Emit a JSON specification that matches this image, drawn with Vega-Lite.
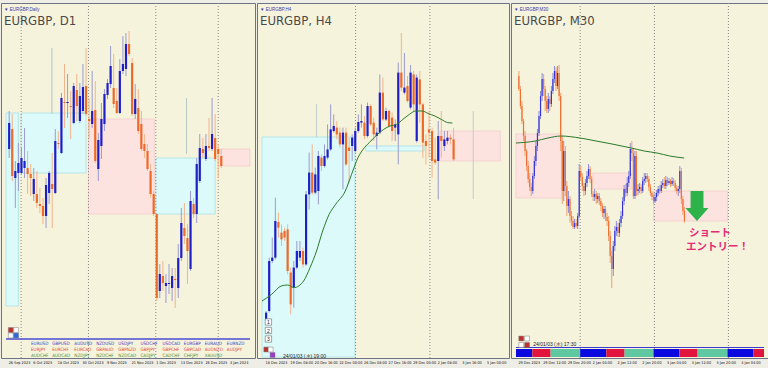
{
"$schema": "https://vega.github.io/schema/vega-lite/v6.json",
"padding": {"left": 0, "top": 2, "right": 0, "bottom": 11},
"background": "#efeee6",
"bounds": "flush",
"spacing": 2,
"config": {
  "view": {"fill": "#f6f3dc", "stroke": "#6d7383", "strokeWidth": 1},
  "axis": {"grid": false, "domain": false, "ticks": false, "labelFont": "DejaVu Sans Condensed, Liberation Sans", "labelFontSize": 3.8, "labelColor": "#111111", "labelAlign": "left", "labelBaseline": "top", "labelPadding": 2.5, "labelOverlap": false, "labelFlush": false, "labelOffset": -1},
  "font": "Liberation Sans"
},
"datasets": {
"d1": [
{"x":0,"o":0.8662,"h":0.8700,"l":0.8653,"c":0.8688},{"x":1,"o":0.8682,"h":0.8697,"l":0.8630,"c":0.8635},{"x":2,"o":0.8633,"h":0.8650,"l":0.8603,"c":0.8640},{"x":3,"o":0.8638,"h":0.8668,"l":0.8620,"c":0.8648},{"x":4,"o":0.8638,"h":0.8663,"l":0.8637,"c":0.8653},{"x":5,"o":0.8643,"h":0.8683,"l":0.8633,"c":0.8650},{"x":6,"o":0.8643,"h":0.8660,"l":0.8617,"c":0.8637},{"x":7,"o":0.8637,"h":0.8647,"l":0.8615,"c":0.8633},{"x":8,"o":0.8617,"h":0.8643,"l":0.8610,"c":0.8632},{"x":9,"o":0.8617,"h":0.8640,"l":0.8603,"c":0.8608},
{"x":10,"o":0.8607,"h":0.8623,"l":0.8598,"c":0.8605},{"x":11,"o":0.8605,"h":0.8613,"l":0.8587,"c":0.8595},{"x":12,"o":0.8595,"h":0.8633,"l":0.8583,"c":0.8626},{"x":13,"o":0.8618,"h":0.8640,"l":0.8607,"c":0.8638},{"x":14,"o":0.8627,"h":0.8658,"l":0.8583,"c":0.8622},{"x":15,"o":0.8618,"h":0.8682,"l":0.8617,"c":0.8670},{"x":16,"o":0.8668,"h":0.8680,"l":0.8662,"c":0.8667},{"x":17,"o":0.8658,"h":0.8718,"l":0.8657,"c":0.8713},{"x":18,"o":0.8709,"h":0.8747,"l":0.8683,"c":0.8708},{"x":19,"o":0.8708,"h":0.8737,"l":0.8693,"c":0.8709},
{"x":20,"o":0.8705,"h":0.8720,"l":0.8672,"c":0.8704},{"x":21,"o":0.8688,"h":0.8728,"l":0.8687,"c":0.8725},{"x":22,"o":0.8721,"h":0.8737,"l":0.8690,"c":0.8705},{"x":23,"o":0.8690,"h":0.8728,"l":0.8688,"c":0.8715},{"x":24,"o":0.8700,"h":0.8747,"l":0.8697,"c":0.8724},{"x":25,"o":0.8725,"h":0.8763,"l":0.8695,"c":0.8697},{"x":26,"o":0.8692,"h":0.8713,"l":0.8673,"c":0.8690},{"x":27,"o":0.8687,"h":0.8740,"l":0.8683,"c":0.8700},{"x":28,"o":0.8701,"h":0.8730,"l":0.8648,"c":0.8650},{"x":29,"o":0.8642,"h":0.8678,"l":0.8630,"c":0.8671},
{"x":30,"o":0.8665,"h":0.8708,"l":0.8652,"c":0.8692},{"x":31,"o":0.8687,"h":0.8722,"l":0.8680,"c":0.8717},{"x":32,"o":0.8716,"h":0.8732,"l":0.8712,"c":0.8728},{"x":33,"o":0.8727,"h":0.8765,"l":0.8723,"c":0.8745},{"x":34,"o":0.8723,"h":0.8757,"l":0.8703,"c":0.8707},{"x":35,"o":0.8710,"h":0.8723,"l":0.8697,"c":0.8698},{"x":36,"o":0.8698,"h":0.8752,"l":0.8697,"c":0.8740},{"x":37,"o":0.8740,"h":0.8775,"l":0.8737,"c":0.8747},{"x":38,"o":0.8742,"h":0.8778,"l":0.8735,"c":0.8767},{"x":39,"o":0.8767,"h":0.8780,"l":0.8755,"c":0.8757},
{"x":40,"o":0.8748,"h":0.8753,"l":0.8695,"c":0.8697},{"x":41,"o":0.8697,"h":0.8727,"l":0.8692,"c":0.8712},{"x":42,"o":0.8703,"h":0.8722,"l":0.8677,"c":0.8680},{"x":43,"o":0.8687,"h":0.8700,"l":0.8660,"c":0.8662},{"x":44,"o":0.8667,"h":0.8677,"l":0.8653,"c":0.8660},{"x":45,"o":0.8660,"h":0.8667,"l":0.8640,"c":0.8642},{"x":46,"o":0.8640,"h":0.8647,"l":0.8613,"c":0.8617},{"x":47,"o":0.8617,"h":0.8620,"l":0.8595,"c":0.8597},{"x":48,"o":0.8597,"h":0.8597,"l":0.8510,"c":0.8513},{"x":49,"o":0.8520,"h":0.8547,"l":0.8513,"c":0.8537},
{"x":50,"o":0.8535,"h":0.8550,"l":0.8520,"c":0.8528},{"x":51,"o":0.8525,"h":0.8537,"l":0.8508,"c":0.8528},{"x":52,"o":0.8527,"h":0.8547,"l":0.8517,"c":0.8528},{"x":53,"o":0.8523,"h":0.8543,"l":0.8510,"c":0.8535},{"x":54,"o":0.8532,"h":0.8543,"l":0.8503,"c":0.8531},{"x":55,"o":0.8523,"h":0.8567,"l":0.8513,"c":0.8553},{"x":56,"o":0.8553,"h":0.8603,"l":0.8550,"c":0.8588},{"x":57,"o":0.8583,"h":0.8608,"l":0.8567,"c":0.8575},{"x":58,"o":0.8573,"h":0.8587,"l":0.8527,"c":0.8560},{"x":59,"o":0.8542,"h":0.8620,"l":0.8540,"c":0.8610},
{"x":60,"o":0.8607,"h":0.8613,"l":0.8593,"c":0.8597},{"x":61,"o":0.8597,"h":0.8653,"l":0.8588,"c":0.8647},{"x":62,"o":0.8630,"h":0.8677,"l":0.8628,"c":0.8663},{"x":63,"o":0.8662,"h":0.8673,"l":0.8653,"c":0.8658},{"x":64,"o":0.8652,"h":0.8677,"l":0.8650,"c":0.8665},{"x":65,"o":0.8665,"h":0.8693,"l":0.8660,"c":0.8663},{"x":66,"o":0.8662,"h":0.8713,"l":0.8660,"c":0.8677},{"x":67,"o":0.8673,"h":0.8697,"l":0.8650,"c":0.8652},{"x":68,"o":0.8662,"h":0.8667,"l":0.8633,"c":0.8657},{"x":69,"o":0.8655,"h":0.8662,"l":0.8643,"c":0.8645}
],
"d1z": [
{"x":-1.03,"x2":3.0,"y":0.8505,"y2":0.8698,"z":"cyan"},
{"x":3.9,"x2":25.0,"y":0.8638,"y2":0.8698,"z":"cyan"},
{"x":25.8,"x2":47.2,"y":0.8597,"y2":0.8692,"z":"pink"},
{"x":47.7,"x2":67.0,"y":0.8597,"y2":0.8653,"z":"cyan"},
{"x":68.0,"x2":78.34,"y":0.8645,"y2":0.8662,"z":"pink"}
],
"cur": [
{"t":"EURUSD","x":7.1,"y":0.84673,"g":"a"},{"t":"GBPUSD","x":14.0,"y":0.84673,"g":"a"},{"t":"AUDUSD","x":21.2,"y":0.84673,"g":"a"},{"t":"NZDUSD","x":28.3,"y":0.84673,"g":"a"},{"t":"USDJPY","x":35.5,"y":0.84673,"g":"a"},{"t":"USDCHF","x":42.7,"y":0.84673,"g":"a"},{"t":"USDCAD","x":49.9,"y":0.84673,"g":"a"},{"t":"EURGBP","x":56.8,"y":0.84673,"g":"a"},{"t":"EURAUD","x":63.6,"y":0.84673,"g":"a"},{"t":"EURNZD","x":70.8,"y":0.84673,"g":"a"},
{"t":"EURJPY","x":7.1,"y":0.84607,"g":"b"},{"t":"EURCHF","x":14.0,"y":0.84607,"g":"b"},{"t":"EURCAD","x":21.2,"y":0.84607,"g":"b"},{"t":"GBPAUD","x":28.3,"y":0.84607,"g":"b"},{"t":"GBPNZD","x":35.5,"y":0.84607,"g":"b"},{"t":"GBPJPY","x":42.7,"y":0.84607,"g":"b"},{"t":"GBPCHF","x":49.9,"y":0.84607,"g":"b"},{"t":"GBPCAD","x":56.8,"y":0.84607,"g":"b"},{"t":"AUDNZD","x":63.6,"y":0.84607,"g":"b"},{"t":"AUDJPY","x":70.8,"y":0.84607,"g":"b"},
{"t":"AUDCHF","x":7.1,"y":0.84553,"g":"c"},{"t":"AUDCAD","x":14.0,"y":0.84553,"g":"c"},{"t":"NZDJPY","x":21.2,"y":0.84553,"g":"c"},{"t":"NZDCHF","x":28.3,"y":0.84553,"g":"c"},{"t":"NZDCAD","x":35.5,"y":0.84553,"g":"c"},{"t":"CADJPY","x":42.7,"y":0.84553,"g":"c"},{"t":"CADCHF","x":49.9,"y":0.84553,"g":"c"},{"t":"CHFJPY","x":56.8,"y":0.84553,"g":"c"},{"t":"XAUUSD","x":63.6,"y":0.84553,"g":"c"}
],
"h4": [
{"x":0,"o":0.85808,"h":0.85850,"l":0.85800,"c":0.85842},{"x":1,"o":0.85850,"h":0.86117,"l":0.85842,"c":0.86100},{"x":2,"o":0.86100,"h":0.86217,"l":0.86090,"c":0.86117},{"x":3,"o":0.86117,"h":0.86417,"l":0.86108,"c":0.86300},{"x":4,"o":0.86295,"h":0.86342,"l":0.86217,"c":0.86267},{"x":5,"o":0.86242,"h":0.86283,"l":0.86175,"c":0.86208},{"x":6,"o":0.86250,"h":0.86267,"l":0.86200,"c":0.86217},{"x":7,"o":0.86258,"h":0.86283,"l":0.86033,"c":0.86050},{"x":8,"o":0.86042,"h":0.86067,"l":0.85833,"c":0.85883},{"x":9,"o":0.85967,"h":0.86100,"l":0.85867,"c":0.86067},
{"x":10,"o":0.86067,"h":0.86200,"l":0.86058,"c":0.86150},{"x":11,"o":0.86117,"h":0.86200,"l":0.86100,"c":0.86150},{"x":12,"o":0.86150,"h":0.86167,"l":0.86067,"c":0.86083},{"x":13,"o":0.86083,"h":0.86450,"l":0.86075,"c":0.86433},{"x":14,"o":0.86433,"h":0.86642,"l":0.86358,"c":0.86542},{"x":15,"o":0.86542,"h":0.86683,"l":0.86433,"c":0.86442},{"x":16,"o":0.86442,"h":0.86567,"l":0.86433,"c":0.86533},{"x":17,"o":0.86450,"h":0.86650,"l":0.86383,"c":0.86625},{"x":18,"o":0.86617,"h":0.86633,"l":0.86550,"c":0.86575},{"x":19,"o":0.86575,"h":0.86683,"l":0.86567,"c":0.86625},
{"x":20,"o":0.86617,"h":0.86783,"l":0.86608,"c":0.86658},{"x":21,"o":0.86658,"h":0.86883,"l":0.86650,"c":0.86758},{"x":22,"o":0.86750,"h":0.86833,"l":0.86742,"c":0.86775},{"x":23,"o":0.86767,"h":0.86800,"l":0.86708,"c":0.86733},{"x":24,"o":0.86742,"h":0.86767,"l":0.86667,"c":0.86683},{"x":25,"o":0.86683,"h":0.86767,"l":0.86458,"c":0.86742},{"x":26,"o":0.86742,"h":0.86767,"l":0.86575,"c":0.86583},{"x":27,"o":0.86667,"h":0.86717,"l":0.86492,"c":0.86650},{"x":28,"o":0.86675,"h":0.86733,"l":0.86600,"c":0.86717},{"x":29,"o":0.86650,"h":0.86767,"l":0.86642,"c":0.86750},
{"x":30,"o":0.86750,"h":0.86833,"l":0.86742,"c":0.86795},{"x":31,"o":0.86792,"h":0.86883,"l":0.86767,"c":0.86800},{"x":32,"o":0.86792,"h":0.86825,"l":0.86708,"c":0.86725},{"x":33,"o":0.86725,"h":0.86892,"l":0.86717,"c":0.86875},{"x":34,"o":0.86875,"h":0.86883,"l":0.86775,"c":0.86783},{"x":35,"o":0.86792,"h":0.86817,"l":0.86700,"c":0.86733},{"x":36,"o":0.86725,"h":0.86767,"l":0.86658,"c":0.86742},{"x":37,"o":0.86742,"h":0.87033,"l":0.86733,"c":0.86942},{"x":38,"o":0.86942,"h":0.87017,"l":0.86800,"c":0.86808},{"x":39,"o":0.86808,"h":0.86867,"l":0.86800,"c":0.86850},
{"x":40,"o":0.86850,"h":0.86858,"l":0.86767,"c":0.86775},{"x":41,"o":0.86817,"h":0.86842,"l":0.86700,"c":0.86750},{"x":42,"o":0.86767,"h":0.86808,"l":0.86700,"c":0.86783},{"x":43,"o":0.86733,"h":0.87092,"l":0.86583,"c":0.87042},{"x":44,"o":0.87042,"h":0.87240,"l":0.86950,"c":0.86967},{"x":45,"o":0.86942,"h":0.87140,"l":0.86933,"c":0.86967},{"x":46,"o":0.86975,"h":0.87025,"l":0.86892,"c":0.86900},{"x":47,"o":0.86867,"h":0.87080,"l":0.86858,"c":0.87042},{"x":48,"o":0.87033,"h":0.87050,"l":0.86850,"c":0.86883},{"x":49,"o":0.86700,"h":0.87033,"l":0.86692,"c":0.87017},
{"x":50,"o":0.87008,"h":0.87050,"l":0.86792,"c":0.86883},{"x":51,"o":0.86883,"h":0.86892,"l":0.86617,"c":0.86692},{"x":52,"o":0.86700,"h":0.86733,"l":0.86583,"c":0.86675},{"x":53,"o":0.86758,"h":0.86850,"l":0.86617,"c":0.86742},{"x":54,"o":0.86750,"h":0.86767,"l":0.86517,"c":0.86600},{"x":55,"o":0.86608,"h":0.86717,"l":0.86583,"c":0.86592},{"x":56,"o":0.86600,"h":0.86800,"l":0.86408,"c":0.86725},{"x":57,"o":0.86725,"h":0.86850,"l":0.86617,"c":0.86700},{"x":58,"o":0.86675,"h":0.86750,"l":0.86650,"c":0.86708},{"x":59,"o":0.86700,"h":0.86750,"l":0.86683,"c":0.86717},
{"x":60,"o":0.86717,"h":0.86733,"l":0.86683,"c":0.86708},{"x":61,"o":0.86708,"h":0.86767,"l":0.86600,"c":0.86608}
],
"h4ma": [
{"x":-1.34,"v":0.85900},{"x":1.78,"v":0.85933},{"x":4.9,"v":0.85975},{"x":7.0,"v":0.85980},{"x":9.06,"v":0.85967},{"x":12.2,"v":0.86000},{"x":14.3,"v":0.86067},{"x":16.4,"v":0.86150},{"x":18.4,"v":0.86250},{"x":20.5,"v":0.86333},{"x":22.6,"v":0.86383},{"x":25.75,"v":0.86450},{"x":27.8,"v":0.86533},{"x":29.9,"v":0.86617},{"x":32,"v":0.86667},{"x":34.1,"v":0.86700},{"x":36.2,"v":0.86733},{"x":38.25,"v":0.86758},{"x":40.3,"v":0.86775},{"x":42.4,"v":0.86783},{"x":44.5,"v":0.86808},{"x":46.6,"v":0.86833},{"x":48.7,"v":0.86850},{"x":50.75,"v":0.86850},{"x":52.8,"v":0.86837},{"x":54.9,"v":0.86825},{"x":57,"v":0.86808},{"x":59.1,"v":0.86792},{"x":60.6,"v":0.86790}
],
"h4z": [
{"x":-1.34,"x2":28.9,"y":0.85620,"y2":0.86720,"z":"cyan"},
{"x":32.4,"x2":51.4,"y":0.86650,"y2":0.86675,"z":"cyan"},
{"x":56.5,"x2":76.2,"y":0.86600,"y2":0.86750,"z":"pink"}
],
"m30": [
{"x":0,"o":0.87425,"h":0.87430,"l":0.87410,"c":0.87412},{"x":1,"o":0.87412,"h":0.87415,"l":0.87392,"c":0.87395},{"x":2,"o":0.87395,"h":0.87400,"l":0.87377,"c":0.87380},{"x":3,"o":0.87380,"h":0.87382,"l":0.87360,"c":0.87365},{"x":4,"o":0.87365,"h":0.87370,"l":0.87345,"c":0.87350},{"x":5,"o":0.87350,"h":0.87352,"l":0.87330,"c":0.87335},{"x":6,"o":0.87335,"h":0.87340,"l":0.87318,"c":0.87322},{"x":7,"o":0.87322,"h":0.87328,"l":0.87310,"c":0.87314},{"x":8,"o":0.87314,"h":0.87318,"l":0.87305,"c":0.87310},{"x":9,"o":0.87310,"h":0.87328,"l":0.87307,"c":0.87325},
{"x":10,"o":0.87325,"h":0.87345,"l":0.87322,"c":0.87340},{"x":11,"o":0.87340,"h":0.87360,"l":0.87335,"c":0.87355},{"x":12,"o":0.87355,"h":0.87372,"l":0.87350,"c":0.87368},{"x":13,"o":0.87368,"h":0.87390,"l":0.87365,"c":0.87385},{"x":14,"o":0.87385,"h":0.87410,"l":0.87382,"c":0.87405},{"x":15,"o":0.87405,"h":0.87428,"l":0.87400,"c":0.87422},{"x":16,"o":0.87422,"h":0.87427,"l":0.87405,"c":0.87412},{"x":17,"o":0.87412,"h":0.87415,"l":0.87390,"c":0.87400},{"x":18,"o":0.87400,"h":0.87405,"l":0.87388,"c":0.87392},{"x":19,"o":0.87392,"h":0.87408,"l":0.87388,"c":0.87402},
{"x":20,"o":0.87402,"h":0.87405,"l":0.87390,"c":0.87397},{"x":21,"o":0.87397,"h":0.87415,"l":0.87394,"c":0.87410},{"x":22,"o":0.87410,"h":0.87428,"l":0.87407,"c":0.87422},{"x":23,"o":0.87422,"h":0.87435,"l":0.87418,"c":0.87430},{"x":24,"o":0.87430,"h":0.87434,"l":0.87410,"c":0.87415},{"x":25,"o":0.87415,"h":0.87435,"l":0.87412,"c":0.87428},{"x":26,"o":0.87428,"h":0.87436,"l":0.87400,"c":0.87405},{"x":27,"o":0.87405,"h":0.87408,"l":0.87350,"c":0.87360},{"x":28,"o":0.87360,"h":0.87365,"l":0.87297,"c":0.87310},{"x":29,"o":0.87310,"h":0.87360,"l":0.87300,"c":0.87350},
{"x":30,"o":0.87350,"h":0.87355,"l":0.87305,"c":0.87315},{"x":31,"o":0.87315,"h":0.87320,"l":0.87285,"c":0.87295},{"x":32,"o":0.87295,"h":0.87310,"l":0.87288,"c":0.87302},{"x":33,"o":0.87302,"h":0.87305,"l":0.87278,"c":0.87285},{"x":34,"o":0.87285,"h":0.87290,"l":0.87275,"c":0.87280},{"x":35,"o":0.87280,"h":0.87285,"l":0.87272,"c":0.87274},{"x":36,"o":0.87274,"h":0.87282,"l":0.87272,"c":0.87278},{"x":37,"o":0.87278,"h":0.87282,"l":0.87273,"c":0.87275},{"x":38,"o":0.87275,"h":0.87288,"l":0.87272,"c":0.87285},{"x":39,"o":0.87285,"h":0.87337,"l":0.87283,"c":0.87330},
{"x":40,"o":0.87330,"h":0.87335,"l":0.87320,"c":0.87324},{"x":41,"o":0.87324,"h":0.87328,"l":0.87310,"c":0.87315},{"x":42,"o":0.87315,"h":0.87318,"l":0.87305,"c":0.87310},{"x":43,"o":0.87310,"h":0.87322,"l":0.87306,"c":0.87318},{"x":44,"o":0.87318,"h":0.87330,"l":0.87314,"c":0.87325},{"x":45,"o":0.87325,"h":0.87337,"l":0.87322,"c":0.87332},{"x":46,"o":0.87332,"h":0.87335,"l":0.87318,"c":0.87322},{"x":47,"o":0.87322,"h":0.87325,"l":0.87304,"c":0.87307},{"x":48,"o":0.87307,"h":0.87310,"l":0.87300,"c":0.87304},{"x":49,"o":0.87304,"h":0.87312,"l":0.87300,"c":0.87307},
{"x":50,"o":0.87307,"h":0.87310,"l":0.87297,"c":0.87302},{"x":51,"o":0.87302,"h":0.87308,"l":0.87298,"c":0.87305},{"x":52,"o":0.87305,"h":0.87308,"l":0.87296,"c":0.87300},{"x":53,"o":0.87300,"h":0.87303,"l":0.87290,"c":0.87295},{"x":54,"o":0.87295,"h":0.87298,"l":0.87284,"c":0.87288},{"x":55,"o":0.87288,"h":0.87295,"l":0.87282,"c":0.87292},{"x":56,"o":0.87292,"h":0.87295,"l":0.87280,"c":0.87284},{"x":57,"o":0.87284,"h":0.87288,"l":0.87275,"c":0.87280},{"x":58,"o":0.87280,"h":0.87285,"l":0.87260,"c":0.87265},{"x":59,"o":0.87265,"h":0.87270,"l":0.87238,"c":0.87245},
{"x":60,"o":0.87245,"h":0.87250,"l":0.87213,"c":0.87232},{"x":61,"o":0.87232,"h":0.87260,"l":0.87225,"c":0.87255},{"x":62,"o":0.87255,"h":0.87275,"l":0.87250,"c":0.87270},{"x":63,"o":0.87270,"h":0.87280,"l":0.87265,"c":0.87274},{"x":64,"o":0.87274,"h":0.87278,"l":0.87264,"c":0.87268},{"x":65,"o":0.87268,"h":0.87282,"l":0.87264,"c":0.87278},{"x":66,"o":0.87278,"h":0.87290,"l":0.87274,"c":0.87285},{"x":67,"o":0.87285,"h":0.87304,"l":0.87282,"c":0.87300},{"x":68,"o":0.87300,"h":0.87316,"l":0.87296,"c":0.87312},{"x":69,"o":0.87312,"h":0.87317,"l":0.87304,"c":0.87308},
{"x":70,"o":0.87308,"h":0.87324,"l":0.87305,"c":0.87318},{"x":71,"o":0.87318,"h":0.87330,"l":0.87314,"c":0.87325},{"x":72,"o":0.87325,"h":0.87358,"l":0.87322,"c":0.87352},{"x":73,"o":0.87352,"h":0.87360,"l":0.87340,"c":0.87348},{"x":74,"o":0.87348,"h":0.87353,"l":0.87302,"c":0.87305},{"x":75,"o":0.87305,"h":0.87350,"l":0.87302,"c":0.87345},{"x":76,"o":0.87345,"h":0.87350,"l":0.87305,"c":0.87310},{"x":77,"o":0.87310,"h":0.87317,"l":0.87306,"c":0.87312},{"x":78,"o":0.87312,"h":0.87318,"l":0.87308,"c":0.87314},{"x":79,"o":0.87314,"h":0.87317,"l":0.87307,"c":0.87310},
{"x":80,"o":0.87310,"h":0.87324,"l":0.87308,"c":0.87320},{"x":81,"o":0.87320,"h":0.87328,"l":0.87316,"c":0.87322},{"x":82,"o":0.87322,"h":0.87328,"l":0.87318,"c":0.87325},{"x":83,"o":0.87325,"h":0.87328,"l":0.87319,"c":0.87322},{"x":84,"o":0.87322,"h":0.87325,"l":0.87310,"c":0.87314},{"x":85,"o":0.87314,"h":0.87317,"l":0.87305,"c":0.87308},{"x":86,"o":0.87308,"h":0.87310,"l":0.87301,"c":0.87304},{"x":87,"o":0.87304,"h":0.87307,"l":0.87297,"c":0.87300},{"x":88,"o":0.87300,"h":0.87308,"l":0.87298,"c":0.87304},{"x":89,"o":0.87304,"h":0.87311,"l":0.87300,"c":0.87308},
{"x":90,"o":0.87308,"h":0.87315,"l":0.87305,"c":0.87312},{"x":91,"o":0.87312,"h":0.87316,"l":0.87307,"c":0.87310},{"x":92,"o":0.87310,"h":0.87320,"l":0.87308,"c":0.87316},{"x":93,"o":0.87316,"h":0.87322,"l":0.87313,"c":0.87318},{"x":94,"o":0.87318,"h":0.87324,"l":0.87312,"c":0.87315},{"x":95,"o":0.87315,"h":0.87325,"l":0.87312,"c":0.87321},{"x":96,"o":0.87321,"h":0.87324,"l":0.87315,"c":0.87318},{"x":97,"o":0.87318,"h":0.87323,"l":0.87316,"c":0.87320},{"x":98,"o":0.87320,"h":0.87322,"l":0.87314,"c":0.87317},{"x":99,"o":0.87317,"h":0.87324,"l":0.87315,"c":0.87320},
{"x":100,"o":0.87320,"h":0.87323,"l":0.87315,"c":0.87318},{"x":101,"o":0.87318,"h":0.87321,"l":0.87310,"c":0.87313},{"x":102,"o":0.87313,"h":0.87316,"l":0.87307,"c":0.87310},{"x":103,"o":0.87310,"h":0.87315,"l":0.87305,"c":0.87312},{"x":104,"o":0.87312,"h":0.87335,"l":0.87308,"c":0.87330},{"x":105,"o":0.87330,"h":0.87333,"l":0.87297,"c":0.87302},{"x":106,"o":0.87302,"h":0.87305,"l":0.87286,"c":0.87290},{"x":107,"o":0.87290,"h":0.87294,"l":0.87278,"c":0.87280}
],
"m30ma": [
{"x":-1.9,"v":0.87358},{"x":10.6,"v":0.87360},{"x":18.8,"v":0.87363},{"x":27.1,"v":0.87365},{"x":39.5,"v":0.87363},{"x":49.9,"v":0.87360},{"x":60.2,"v":0.87357},{"x":72.7,"v":0.87353},{"x":81,"v":0.87350},{"x":89.3,"v":0.87348},{"x":97.5,"v":0.87345},{"x":106.8,"v":0.87343}
],
"m30z": [
{"x":-1.86,"x2":28,"y":0.87303,"y2":0.87367},
{"x":47.8,"x2":72.7,"y":0.87312,"y2":0.87328},
{"x":87,"x2":134.8,"y":0.87280,"y2":0.87310}
],
"sess": [
{"x":-1.86,"x2":8.7,"s":"tokyo"},{"x":8.7,"x2":20.5,"s":"london"},{"x":20.5,"x2":39.6,"s":"ny"},
{"x":39.6,"x2":56.5,"s":"tokyo"},{"x":56.5,"x2":68.3,"s":"london"},{"x":68.3,"x2":87,"s":"ny"},
{"x":87,"x2":103.7,"s":"tokyo"},{"x":103.7,"x2":115.5,"s":"london"},{"x":115.5,"x2":134.8,"s":"ny"},
{"x":134.8,"x2":151.6,"s":"tokyo"},{"x":151.6,"x2":158.4,"s":"london"}
]
},
"hconcat": [
{
"width": 254, "height": 355,
"title": {"text": "▼ EURGBP,Daily", "subtitle": "EURGBP, D1", "anchor": "start", "frame": "group", "offset": -25, "dx": 3, "fontSize": 4.5, "fontWeight": "normal", "color": "#3b3bb0", "subtitleFont": "DejaVu Sans Condensed, Liberation Sans", "subtitleFontSize": 13, "subtitleColor": "#4a4a4a", "subtitlePadding": 3},
"encoding": {"x": {"field": "x", "type": "quantitative", "scale": {"domain": [-1.03, 78.34], "nice": false, "zero": false}, "title": null,
   "axis": {"values": [0,8,16,24,32,40,48,56,64,72], "labelExpr": "['26 Sep 2023','6 Oct 2023','18 Oct 2023','30 Oct 2023','9 Nov 2023','21 Nov 2023','1 Dec 2023','13 Dec 2023','26 Dec 2023','4 Jan 2024'][round(datum.value/8)]"}}},
"layer": [
{"data": {"name": "d1z"}, "mark": {"type": "rect", "strokeWidth": 0.8},
 "encoding": {
  "x2": {"field": "x2"},
  "y": {"field": "y", "type": "quantitative", "scale": {"domain": [0.8453, 0.8808], "nice": false, "zero": false}, "axis": null},
  "y2": {"field": "y2"},
  "fill": {"condition": {"test": "datum.z=='cyan'", "value": "#dcfafa"}, "value": "#fde3e0"},
  "stroke": {"condition": {"test": "datum.z=='cyan'", "value": "#a9dfe6"}, "value": "#f3cdcd"}
 }},
{"data": {"values": [{"x":3.9},{"x":25.8},{"x":47.7},{"x":68.0}]}, "mark": {"type": "rule", "color": "#8a8a8a", "strokeDash": [1, 2], "strokeWidth": 1}, "encoding": {}},
{"data": {"values": [{"x":13.9,"a":0.8763,"b":0.8697},{"x":57.7,"a":0.8713,"b":0.8657}]}, "mark": {"type": "rule", "color": "#b4c6c6", "strokeWidth": 1},
 "encoding": {"y": {"field": "a", "type": "quantitative", "scale": {"domain": [0.8453, 0.8808], "nice": false, "zero": false}, "axis": null}, "y2": {"field": "b"}}},
{"data": {"values": [{"x":-1.03,"x2":78.34,"y":0.8472}]}, "mark": {"type": "rule", "color": "#4a4ad6", "strokeWidth": 1.5},
 "encoding": {"x2": {"field": "x2"}, "y": {"field": "y", "type": "quantitative", "scale": {"domain": [0.8453, 0.8808], "nice": false, "zero": false}, "axis": null}}},
{"data": {"name": "d1"}, "mark": {"type": "rule", "strokeWidth": 1},
 "encoding": {"y": {"field": "l", "type": "quantitative", "scale": {"domain": [0.8453, 0.8808], "nice": false, "zero": false}, "axis": null}, "y2": {"field": "h"},
  "color": {"condition": {"test": "datum.c >= datum.o", "value": "#9a9ad0"}, "value": "#f2b48c"}}},
{"data": {"name": "d1"}, "mark": {"type": "bar", "size": 2.2},
 "encoding": {"y": {"field": "o", "type": "quantitative", "scale": {"domain": [0.8453, 0.8808], "nice": false, "zero": false}, "axis": null}, "y2": {"field": "c"},
  "color": {"condition": {"test": "datum.c >= datum.o", "value": "#1f1fc8"}, "value": "#ee6a2a"}}},
{"data": {"name": "cur"}, "mark": {"type": "text", "align": "left", "baseline": "middle", "font": "DejaVu Sans Condensed, Liberation Sans", "fontSize": 4.6},
 "encoding": {"y": {"field": "y", "type": "quantitative", "scale": {"domain": [0.8453, 0.8808], "nice": false, "zero": false}, "axis": null},
  "text": {"field": "t"},
  "color": {"condition": [{"test": "datum.g=='a'", "value": "#3a3ac8"}, {"test": "datum.g=='b'", "value": "#e0463c"}], "value": "#3f8f3f"}}},
{"data": {"values": [{"x":0.53,"y":0.8481,"b":"r"},{"x":2.25,"y":0.8481,"b":"w"},{"x":0.53,"y":0.84755,"b":"w"},{"x":2.25,"y":0.84755,"b":"u"}]}, "mark": {"type": "point", "shape": "square", "size": 24, "filled": true, "stroke": "#7a7a7a", "strokeWidth": 0.5, "opacity": 1},
 "encoding": {"y": {"field": "y", "type": "quantitative", "scale": {"domain": [0.8453, 0.8808], "nice": false, "zero": false}, "axis": null},
  "fill": {"condition": [{"test": "datum.b=='r'", "value": "#c0302a"}, {"test": "datum.b=='u'", "value": "#2a6ae0"}], "value": "#ffffff"}}}
]
},
{
"width": 252, "height": 355,
"title": {"text": "▼ EURGBP,H4", "subtitle": "EURGBP, H4", "anchor": "start", "frame": "group", "offset": -25, "dx": 3, "fontSize": 4.5, "fontWeight": "normal", "color": "#3b3bb0", "subtitleFont": "DejaVu Sans Condensed, Liberation Sans", "subtitleFontSize": 13, "subtitleColor": "#4a4a4a", "subtitlePadding": 3},
"encoding": {"x": {"field": "x", "type": "quantitative", "scale": {"domain": [-1.34, 77.4], "nice": false, "zero": false}, "title": null,
   "axis": {"values": [0,8,16,24,32,40,48,56,64,72], "labelExpr": "['18 Dec 2023','19 Dec 08:00','20 Dec 16:00','22 Dec 00:00','26 Dec 08:00','27 Dec 16:00','29 Dec 00:00','2 Jan 08:00','3 Jan 16:00','5 Jan 00:00'][round(datum.value/8)]"}}},
"layer": [
{"data": {"name": "h4z"}, "mark": {"type": "rect", "strokeWidth": 0.8},
 "encoding": {
  "x2": {"field": "x2"},
  "y": {"field": "y", "type": "quantitative", "scale": {"domain": [0.85615, 0.8739], "nice": false, "zero": false}, "axis": null},
  "y2": {"field": "y2"},
  "fill": {"condition": {"test": "datum.z=='cyan'", "value": "#dcfafa"}, "value": "#fde3e0"},
  "stroke": {"condition": {"test": "datum.z=='cyan'", "value": "#a9dfe6"}, "value": "#f3cdcd"}
 }},
{"data": {"values": [{"x":29.1},{"x":53.3}]}, "mark": {"type": "rule", "color": "#8a8a8a", "strokeDash": [1, 2], "strokeWidth": 1}, "encoding": {}},
{"data": {"values": [{"x":16.4,"a":0.86885,"b":0.86720},{"x":67.4,"a":0.86850,"b":0.86410}]}, "mark": {"type": "rule", "color": "#c4cccc", "strokeWidth": 1},
 "encoding": {"y": {"field": "a", "type": "quantitative", "scale": {"domain": [0.85615, 0.8739], "nice": false, "zero": false}, "axis": null}, "y2": {"field": "b"}}},
{"data": {"name": "h4"}, "mark": {"type": "rule", "strokeWidth": 1},
 "encoding": {"y": {"field": "l", "type": "quantitative", "scale": {"domain": [0.85615, 0.8739], "nice": false, "zero": false}, "axis": null}, "y2": {"field": "h"},
  "color": {"condition": {"test": "datum.c >= datum.o", "value": "#9a9ad0"}, "value": "#f2b48c"}}},
{"data": {"name": "h4"}, "mark": {"type": "bar", "size": 2.2},
 "encoding": {"y": {"field": "o", "type": "quantitative", "scale": {"domain": [0.85615, 0.8739], "nice": false, "zero": false}, "axis": null}, "y2": {"field": "c"},
  "color": {"condition": {"test": "datum.c >= datum.o", "value": "#1f1fc8"}, "value": "#ee6a2a"}}},
{"data": {"name": "h4ma"}, "mark": {"type": "line", "color": "#2a7a2a", "strokeWidth": 1, "interpolate": "monotone"},
 "encoding": {"y": {"field": "v", "type": "quantitative", "scale": {"domain": [0.85615, 0.8739], "nice": false, "zero": false}, "axis": null}}},
{"data": {"values": [{"x":0.75,"y":0.85795,"t":"1"},{"x":0.75,"y":0.857525,"t":"2"},{"x":0.75,"y":0.8571,"t":"3"}]}, "mark": {"type": "point", "shape": "square", "size": 40, "filled": true, "fill": "#ffffff", "stroke": "#6a6a6a", "strokeWidth": 0.6, "opacity": 1},
 "encoding": {"y": {"field": "y", "type": "quantitative", "scale": {"domain": [0.85615, 0.8739], "nice": false, "zero": false}, "axis": null}}},
{"data": {"values": [{"x":0.75,"y":0.85795,"t":"1"},{"x":0.75,"y":0.857525,"t":"2"},{"x":0.75,"y":0.8571,"t":"3"}]}, "mark": {"type": "text", "fontSize": 5, "color": "#222222", "align": "center", "baseline": "middle"},
 "encoding": {"y": {"field": "y", "type": "quantitative", "scale": {"domain": [0.85615, 0.8739], "nice": false, "zero": false}, "axis": null}, "text": {"field": "t"}}},
{"data": {"values": [{"x":0.06,"y":0.856575,"b":"r"},{"x":1.47,"y":0.856575,"b":"w"},{"x":2.1,"y":0.8563,"b":"p"}]}, "mark": {"type": "point", "shape": "square", "size": 24, "filled": true, "stroke": "#7a7a7a", "strokeWidth": 0.5, "opacity": 1},
 "encoding": {"y": {"field": "y", "type": "quantitative", "scale": {"domain": [0.85615, 0.8739], "nice": false, "zero": false}, "axis": null},
  "fill": {"condition": [{"test": "datum.b=='r'", "value": "#c0302a"}, {"test": "datum.b=='p'", "value": "#9a3ad0"}], "value": "#ffffff"}}},
{"data": {"values": [{"x":5.5,"y":0.85625,"t":"24/01/03 (水) 19:00"}]}, "mark": {"type": "text", "fontSize": 5, "color": "#222222", "align": "left", "baseline": "middle"},
 "encoding": {"y": {"field": "y", "type": "quantitative", "scale": {"domain": [0.85615, 0.8739], "nice": false, "zero": false}, "axis": null}, "text": {"field": "t"}}}
]
},
{
"width": 258, "height": 355,
"title": {"text": "▼ EURGBP,M30", "subtitle": "EURGBP, M30", "anchor": "start", "frame": "group", "offset": -25, "dx": 3, "fontSize": 4.5, "fontWeight": "normal", "color": "#3b3bb0", "subtitleFont": "DejaVu Sans Condensed, Liberation Sans", "subtitleFontSize": 13, "subtitleColor": "#4a4a4a", "subtitlePadding": 3},
"encoding": {"x": {"field": "x", "type": "quantitative", "scale": {"domain": [-1.86, 158.4], "nice": false, "zero": false}, "title": null,
   "axis": {"values": [0,16,32,48,64,80,96,112,128,144], "labelExpr": "['29 Dec 2023','29 Dec 12:00','29 Dec 20:00','2 Jan 04:00','2 Jan 12:00','2 Jan 20:00','3 Jan 04:00','3 Jan 12:00','3 Jan 20:00','4 Jan 04:00'][round(datum.value/16)]"}}},
"layer": [
{"data": {"name": "m30z"}, "mark": {"type": "rect", "strokeWidth": 0.8, "fill": "#fde3e0", "stroke": "#f3cdcd"},
 "encoding": {
  "x2": {"field": "x2"},
  "y": {"field": "y", "type": "quantitative", "scale": {"domain": [0.87143, 0.87498], "nice": false, "zero": false}, "axis": null},
  "y2": {"field": "y2"}
 }},
{"data": {"values": [{"x":39.6},{"x":87.6},{"x":135.4}]}, "mark": {"type": "rule", "color": "#8a8a8a", "strokeDash": [1, 2], "strokeWidth": 1}, "encoding": {}},
{"data": {"name": "m30"}, "mark": {"type": "rule", "strokeWidth": 1},
 "encoding": {"y": {"field": "l", "type": "quantitative", "scale": {"domain": [0.87143, 0.87498], "nice": false, "zero": false}, "axis": null}, "y2": {"field": "h"},
  "color": {"condition": {"test": "datum.c >= datum.o", "value": "#8c8cd8"}, "value": "#f2a070"}}},
{"data": {"name": "m30"}, "mark": {"type": "bar", "size": 1.2},
 "encoding": {"y": {"field": "o", "type": "quantitative", "scale": {"domain": [0.87143, 0.87498], "nice": false, "zero": false}, "axis": null}, "y2": {"field": "c"},
  "color": {"condition": {"test": "datum.c >= datum.o", "value": "#3535d8"}, "value": "#ee7030"}}},
{"data": {"name": "m30ma"}, "mark": {"type": "line", "color": "#2a7a2a", "strokeWidth": 1, "interpolate": "monotone"},
 "encoding": {"y": {"field": "v", "type": "quantitative", "scale": {"domain": [0.87143, 0.87498], "nice": false, "zero": false}, "axis": null}}},
{"data": {"name": "sess"}, "mark": {"type": "rect"},
 "encoding": {"x2": {"field": "x2"},
  "y": {"datum": 0.87152, "type": "quantitative", "scale": {"domain": [0.87143, 0.87498], "nice": false, "zero": false}, "axis": null}, "y2": {"datum": 0.87144},
  "fill": {"condition": [{"test": "datum.s=='tokyo'", "value": "#0a0ae0"}, {"test": "datum.s=='london'", "value": "#e0143c"}], "value": "#5fc8a0"}}},
{"data": {"values": [{"x":-1.86,"x2":158.4,"y":0.871535}]}, "mark": {"type": "rule", "color": "#3a3ad0", "strokeWidth": 1},
 "encoding": {"x2": {"field": "x2"}, "y": {"field": "y", "type": "quantitative", "scale": {"domain": [0.87143, 0.87498], "nice": false, "zero": false}, "axis": null}}},
{"data": {"values": [{"x":1.55,"y":0.871625,"b":"r"},{"x":5.3,"y":0.871625,"b":"w"},{"x":1.55,"y":0.87156,"b":"w"},{"x":5.3,"y":0.87156,"b":"r"}]}, "mark": {"type": "point", "shape": "square", "size": 24, "filled": true, "stroke": "#7a7a7a", "strokeWidth": 0.5, "opacity": 1},
 "encoding": {"y": {"field": "y", "type": "quantitative", "scale": {"domain": [0.87143, 0.87498], "nice": false, "zero": false}, "axis": null},
  "fill": {"condition": {"test": "datum.b=='r'", "value": "#c0302a"}, "value": "#ffffff"}}},
{"data": {"values": [{"x":9.3,"y":0.87157,"t":"24/01/03 (水) 17:30"}]}, "mark": {"type": "text", "fontSize": 5, "color": "#222222", "align": "left", "baseline": "middle"},
 "encoding": {"y": {"field": "y", "type": "quantitative", "scale": {"domain": [0.87143, 0.87498], "nice": false, "zero": false}, "axis": null}, "text": {"field": "t"}}},
{"data": {"values": [{"x":115.1,"y":0.87295}]}, "mark": {"type": "point", "shape": "M-0.43,-1L0.43,-1L0.43,0.13L0.77,0.13L0,1L-0.77,0.13L-0.43,0.13Z", "size": 900, "filled": true, "color": "#2db34a", "opacity": 1, "strokeWidth": 0},
 "encoding": {"y": {"field": "y", "type": "quantitative", "scale": {"domain": [0.87143, 0.87498], "nice": false, "zero": false}, "axis": null}}},
{"data": {"values": [{"x":110,"y":0.872685,"t":"ショート"},{"x":108,"y":0.87254,"t":"エントリー！"}]}, "mark": {"type": "text", "font": "Noto Sans CJK JP", "fontWeight": "bold", "fontSize": 10.5, "align": "left", "baseline": "middle", "color": "#e62a78"},
 "encoding": {"y": {"field": "y", "type": "quantitative", "scale": {"domain": [0.87143, 0.87498], "nice": false, "zero": false}, "axis": null}, "text": {"field": "t"}}}
]
}
]
}
